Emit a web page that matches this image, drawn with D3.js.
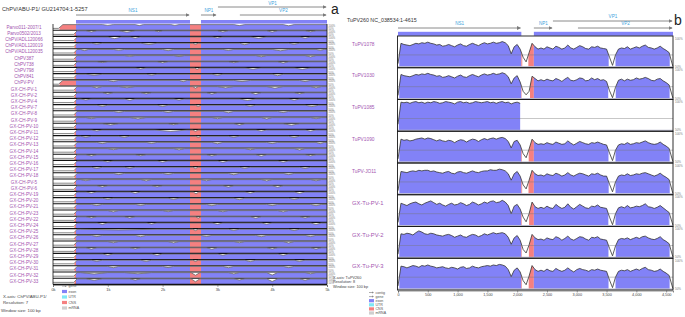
<!DOCTYPE html>
<html>
<head>
<meta charset="utf-8">
<script src="https://cdn.jsdelivr.net/npm/d3@7"></script>
<style>
  body { margin: 0; background: #fff; }
  svg { display: block; font-family: "Liberation Sans", Arial, sans-serif; }
</style>
</head>
<body>
<div id="chart"></div>
<script>
// ---------- panel a data ----------
const namesA = ["Parvo011-2007/1", "Parvo0502/2013", "ChPV/ADL120066", "ChPV/ADL120019", "ChPV/ADL120035",
  "ChPV387", "ChPV738", "ChPV798", "ChPV841", "ChPV-PV", "GX-CH-PV-1", "GX-CH-PV-2", "GX-CH-PV-4",
  "GX-CH-PV-7", "GX-CH-PV-8", "GX-CH-PV-9", "GX-CH-PV-10", "GX-CH-PV-11", "GX-CH-PV-12", "GX-CH-PV-13",
  "GX-CH-PV-14", "GX-CH-PV-15", "GX-CH-PV-16", "GX-CH-PV-17", "GX-CH-PV-18", "GX-CH-PV-5", "GX-CH-PV-6",
  "GX-CH-PV-19", "GX-CH-PV-20", "GX-CH-PV-21", "GX-CH-PV-23", "GX-CH-PV-22", "GX-CH-PV-24", "GX-CH-PV-25",
  "GX-CH-PV-26", "GX-CH-PV-27", "GX-CH-PV-28", "GX-CH-PV-29", "GX-CH-PV-30", "GX-CH-PV-31", "GX-CH-PV-32",
  "GX-CH-PV-33"];

// start of each row (bp, % identity): most sequences are not conserved before NS1
const leadA = [[0, 64], [380, 64], [440, 97]];
const leadPinkA = [[0, 62], [100, 62], [180, 97], [440, 97]];
const pinkLeadRows = ["Parvo011-2007/1", "ChPV-PV"];
const plateauA = 97;
// dips per row: [start bp, end bp, lowest %]
const dipsA = [
  [[900, 1100, 90], [1500, 1650, 88], [2150, 2300, 90], [3300, 3500, 88], [4200, 4400, 86]],
  [[600, 800, 86], [1200, 1500, 84], [1850, 2000, 88], [3000, 3200, 86], [3900, 4100, 85], [4600, 4800, 88]],
  [[1000, 1250, 82], [1400, 1600, 86], [2900, 3100, 88], [3600, 3900, 85], [4500, 4700, 86]],
  [[700, 900, 88], [1600, 1900, 85], [2550, 2650, 86], [3400, 3600, 83], [4300, 4500, 87]],
  [[500, 650, 86], [1100, 1300, 88], [2000, 2200, 85], [3100, 3300, 87], [4000, 4300, 84], [4800, 4950, 88]],
  [[1300, 1500, 90], [2200, 2400, 88], [3700, 3900, 86], [4600, 4800, 85]],
  [[800, 1000, 90], [1900, 2100, 87], [3200, 3400, 88], [4100, 4300, 85]],
  [[1500, 1700, 88], [2580, 2680, 85], [3500, 3800, 86], [4400, 4700, 85]],
  [[600, 900, 87], [1700, 1900, 88], [2900, 3100, 86], [4000, 4200, 83]],
  [[1000, 1200, 86], [2300, 2450, 85], [3300, 3600, 86], [4500, 4700, 86]],
  [[700, 900, 84], [1200, 1500, 86], [2550, 2650, 82], [3000, 3300, 85], [3900, 4200, 82], [4700, 4900, 85]],
  [[900, 1100, 86], [1600, 1800, 87], [2800, 3000, 85], [3600, 3800, 83], [4400, 4600, 87]],
  [[500, 700, 88], [1300, 1500, 85], [2200, 2400, 87], [3400, 3700, 84], [4300, 4500, 86]],
  [[800, 1000, 86], [1900, 2100, 85], [2600, 2700, 84], [3500, 3700, 86], [4600, 4850, 84]],
  [[1100, 1300, 87], [2000, 2200, 86], [3100, 3300, 84], [4100, 4300, 86]],
  [[600, 800, 88], [1400, 1700, 85], [2900, 3100, 87], [3800, 4000, 84], [4700, 4900, 87]],
  [[900, 1200, 86], [2100, 2300, 88], [3300, 3500, 85], [4200, 4500, 84]],
  [[700, 900, 88], [1850, 2450, 84], [2550, 2650, 85], [3700, 3900, 86], [4600, 4800, 86]],
  [[500, 700, 87], [1200, 1400, 86], [2600, 2700, 85], [3200, 3400, 87], [4300, 4500, 85]],
  [[800, 1000, 86], [1700, 1900, 87], [2900, 3100, 84], [3900, 4100, 86], [4800, 4950, 85]],
  [[1000, 1200, 87], [2200, 2400, 85], [3500, 3700, 86], [4400, 4600, 84]],
  [[600, 800, 86], [1500, 1700, 88], [2800, 3000, 86], [3700, 3900, 84], [4600, 4800, 87]],
  [[900, 1100, 88], [1900, 2100, 86], [3000, 3200, 85], [4100, 4300, 86]],
  [[700, 900, 85], [1300, 1500, 87], [2550, 2650, 84], [3400, 3600, 86], [4500, 4700, 85]],
  [[1100, 1300, 86], [2000, 2200, 87], [3200, 3400, 84], [4200, 4400, 86]],
  [[500, 700, 87], [1600, 1800, 85], [2700, 2900, 86], [3800, 4000, 85], [4700, 4900, 86]],
  [[800, 1000, 86], [1800, 2000, 87], [3100, 3300, 85], [4000, 4200, 84]],
  [[600, 800, 86], [1400, 1600, 85], [2560, 2660, 80], [3500, 3700, 86], [4400, 4600, 84]],
  [[900, 1100, 87], [2100, 2300, 86], [3300, 3500, 84], [4300, 4500, 86]],
  [[700, 900, 86], [1500, 1700, 87], [2800, 3000, 85], [3900, 4100, 86], [4700, 4900, 85]],
  [[1000, 1200, 85], [2000, 2200, 87], [3000, 3200, 86], [4100, 4300, 85]],
  [[600, 800, 87], [1300, 1500, 86], [2600, 2700, 85], [3600, 3800, 84], [4500, 4700, 86]],
  [[800, 1000, 85], [1700, 1900, 87], [2900, 3100, 85], [3800, 4000, 86], [4700, 4900, 84]],
  [[500, 1900, 90], [2550, 2650, 84], [3200, 3400, 86], [4300, 4500, 85]],
  [[700, 900, 86], [1500, 1700, 85], [2700, 2900, 87], [3700, 3900, 85], [4600, 4800, 86]],
  [[1000, 1200, 86], [2100, 2300, 85], [3300, 3500, 87], [4200, 4400, 84]],
  [[600, 800, 85], [1400, 1600, 87], [2800, 3000, 84], [3900, 4100, 86], [4700, 4900, 85]],
  [[900, 1100, 86], [1800, 2000, 85], [3000, 3200, 86], [4100, 4300, 85]],
  [[700, 900, 87], [1600, 1800, 86], [2550, 2650, 85], [3500, 3700, 84], [4400, 4600, 86]],
  [[1000, 1200, 85], [2000, 2200, 86], [3100, 3300, 85], [4200, 4400, 86]],
  [[500, 1000, 84], [1300, 1800, 86], [2520, 2680, 72], [3200, 3400, 85], [3900, 4100, 74], [4600, 4800, 86]],
  [[600, 900, 84], [1400, 1600, 85], [2520, 2680, 70], [3300, 3500, 86], [3900, 4100, 72], [4500, 4700, 84]]
];
const regionsA = [[0, 420, "CNS"], [420, 2500, "exon"], [2500, 2700, "CNS"], [2700, 5000, "exon"]];
const exonBarA = [[420, 2500], [2700, 5000]];
const genesA = [["NS1", 420, 2500, 1], ["NP1", 2700, 2990, 1], ["VP1", 3010, 5000, 0], ["VP2", 3410, 5000, 1]];
const ticksA = [0, 1000, 2000, 3000, 4000, 5000];
const tickLabelsA = ["0k", "1k", "2k", "3k", "4k", "5k"];

// ---------- panel b data (% identity, 50 bp steps from 0 to 4600) ----------
const namesB = ["TuPV1078", "TuPV1030", "TuPV1085", "TuPV1090", "TuPV-JO11", "GX-Tu-PV-1", "GX-Tu-PV-2", "GX-Tu-PV-3"];
const stepB = 50;
const tupv1078 = [
  55, 90, 88, 87, 86, 88, 90, 89, 91, 90,
  92, 90, 89, 87, 88, 85, 86, 88, 86, 84,
  87, 89, 86, 85, 88, 90, 88, 86, 89, 91,
  89, 90, 92, 90, 91, 93, 91, 86, 72, 84,
  88, 80, 66, 58, 74, 90, 84, 80, 82, 80,
  84, 82, 80, 85, 83, 80, 82, 87, 82, 80,
  83, 86, 84, 81, 80, 84, 83, 85, 82, 81,
  80, 66, 52, 70, 80, 82, 81, 84, 80, 82,
  84, 82, 85, 87, 83, 82, 80, 82, 85, 81,
  78, 74, 55];
const tupv1030 = [
  55, 91, 89, 88, 87, 89, 91, 90, 92, 91,
  93, 91, 90, 88, 89, 86, 87, 89, 87, 85,
  88, 90, 87, 86, 89, 91, 89, 87, 90, 92,
  90, 91, 93, 91, 92, 94, 92, 87, 75, 85,
  89, 78, 62, 56, 62, 88, 84, 80, 82, 80,
  83, 81, 80, 84, 82, 79, 83, 86, 81, 80,
  82, 85, 84, 80, 81, 85, 82, 84, 81, 82,
  79, 63, 51, 69, 81, 83, 80, 83, 81, 82,
  85, 83, 84, 86, 84, 81, 80, 83, 84, 80,
  77, 73, 55];
const tupv1085 = [
  60, 98, 97, 98, 96, 98, 99, 97, 98, 96,
  98, 97, 99, 98, 96, 97, 99, 98, 97, 95,
  98, 99, 97, 98, 96, 97, 99, 98, 97, 98,
  99, 97, 98, 96, 98, 99, 97, 98, 95, 97,
  98, 96];
const tupv1090 = [
  55, 89, 87, 88, 86, 87, 89, 90, 91, 89,
  91, 90, 88, 86, 88, 86, 85, 87, 86, 83,
  86, 88, 87, 84, 87, 89, 88, 85, 88, 90,
  88, 90, 91, 89, 91, 92, 90, 85, 74, 85,
  87, 79, 64, 57, 72, 89, 83, 80, 81, 80,
  83, 81, 80, 84, 82, 80, 81, 86, 82, 79,
  82, 85, 83, 81, 80, 83, 82, 84, 82, 80,
  79, 65, 52, 70, 79, 81, 80, 83, 80, 81,
  83, 82, 84, 86, 83, 81, 80, 81, 84, 80,
  77, 73, 55];
const tupvJO11 = [
  55, 88, 87, 86, 88, 89, 88, 90, 89, 90,
  90, 88, 89, 87, 86, 85, 87, 88, 85, 84,
  87, 88, 86, 85, 87, 89, 87, 86, 88, 89,
  89, 91, 90, 90, 92, 91, 89, 84, 73, 84,
  88, 80, 65, 58, 73, 90, 84, 81, 82, 80,
  84, 82, 81, 85, 83, 80, 82, 86, 82, 80,
  83, 85, 84, 82, 80, 84, 83, 85, 82, 80,
  80, 66, 53, 70, 80, 82, 81, 84, 81, 82,
  84, 83, 85, 86, 84, 82, 80, 82, 85, 81,
  78, 74, 55];
const gxTu1 = [
  55, 88, 86, 84, 87, 89, 90, 87, 85, 88,
  90, 92, 89, 86, 88, 85, 83, 86, 88, 85,
  86, 89, 87, 84, 86, 90, 88, 85, 87, 90,
  88, 91, 92, 89, 90, 93, 90, 84, 70, 83,
  86, 78, 64, 56, 70, 90, 82, 79, 81, 79,
  83, 80, 79, 86, 82, 79, 81, 87, 81, 78,
  82, 86, 83, 80, 79, 83, 82, 85, 81, 80,
  79, 64, 51, 70, 80, 82, 80, 84, 80, 81,
  83, 82, 84, 87, 82, 81, 79, 81, 84, 80,
  76, 72, 55];
const gxTu2 = [
  55, 90, 89, 91, 90, 88, 92, 95, 93, 90,
  89, 91, 90, 88, 87, 86, 88, 89, 87, 84,
  86, 88, 85, 84, 87, 89, 88, 85, 87, 90,
  88, 90, 92, 90, 91, 92, 90, 84, 72, 83,
  87, 79, 63, 57, 71, 89, 83, 80, 81, 79,
  83, 81, 80, 85, 83, 79, 82, 86, 81, 79,
  82, 85, 84, 81, 79, 84, 83, 85, 81, 80,
  79, 65, 52, 69, 80, 82, 81, 83, 80, 82,
  84, 82, 85, 86, 83, 81, 80, 82, 85, 80,
  77, 73, 55];
const gxTu3 = [
  55, 89, 88, 86, 88, 90, 89, 87, 90, 89,
  91, 89, 88, 86, 87, 88, 86, 85, 87, 86,
  84, 87, 88, 85, 86, 89, 87, 86, 88, 89,
  90, 89, 91, 90, 92, 91, 89, 83, 71, 82,
  86, 79, 64, 57, 72, 90, 83, 80, 82, 80,
  84, 81, 80, 85, 82, 80, 82, 86, 82, 79,
  83, 85, 83, 82, 80, 83, 82, 84, 82, 81,
  80, 65, 52, 70, 80, 82, 81, 83, 80, 82,
  84, 82, 85, 87, 83, 82, 80, 81, 84, 80,
  77, 73, 55];
const valuesB = [tupv1078, tupv1030, tupv1085, tupv1090, tupvJO11, gxTu1, gxTu2, gxTu3];
const regionsB = [[0, 2070, "exon"], [2070, 2280, "CNS"], [2280, 4615, "exon"]];
const exonBarB = [[0, 2070], [2280, 4615]];
const genesB = [["NS1", 0, 2070, 1], ["NP1", 2280, 2600, 1], ["VP1", 2600, 4615, 0], ["VP2", 3020, 4615, 1]];
const ticksB = [0, 500, 1000, 1500, 2000, 2500, 3000, 3500, 4000, 4500];

const legendLabels = ["contig", "gene", "exon", "UTR", "CNS", "mRNA"];

// ---------- drawing ----------
const colors = { exon: "#8282f7", CNS: "#f58080", UTR: "#7fe8f5", mRNA: "#cfcfcf" };
const purple = "#a455b0";
const geneBlue = "#3fa3dc";
const threshold = 70;

const svg = d3.select("#chart").append("svg").attr("width", 685).attr("height", 317);
const defs = svg.append("defs");
defs.append("marker").attr("id", "arr").attr("viewBox", "0 0 6 6")
  .attr("refX", 5).attr("refY", 3).attr("markerWidth", 4).attr("markerHeight", 4)
  .attr("orient", "auto")
  .append("path").attr("d", "M0,0L6,3L0,6Z").attr("fill", "#7a7a7a");

// add points where the curve crosses the threshold so fills stop cleanly
function withCrossings(pts, thr) {
  const out = [];
  pts.forEach((p, i) => {
    const q = pts[i - 1];
    if (q && q.v != null && p.v != null && (q.v - thr) * (p.v - thr) < 0) {
      const t = (thr - q.v) / (p.v - q.v);
      out.push({ bp: q.bp + t * (p.bp - q.bp), v: thr });
    }
    out.push(p);
  });
  return out;
}

function makeClips(id, regions, x) {
  regions.forEach((r, k) => {
    defs.append("clipPath").attr("id", `${id}${k}`)
      .append("rect").attr("x", x(r[0])).attr("width", x(r[1]) - x(r[0]))
      .attr("y", 0).attr("height", 317);
  });
}

function drawRow(g, pts, x, y, regions, clipId, strokeColor, strokeWidth) {
  const full = withCrossings(pts, threshold);
  const area = d3.area()
    .defined(d => d.v != null && d.v >= threshold)
    .x(d => x(d.bp)).y0(y(50)).y1(d => y(d.v));
  regions.forEach((r, k) => {
    g.append("path").attr("d", area(full))
      .attr("fill", colors[r[2]]).attr("clip-path", `url(#${clipId}${k})`);
  });
  const line = d3.line().defined(d => d.v != null).x(d => x(d.bp)).y(d => y(d.v));
  g.append("path").attr("d", line(pts)).attr("fill", "none")
    .attr("stroke", strokeColor).attr("stroke-width", strokeWidth);
}

function drawGenes(g, genes, x, rowY, labelY) {
  genes.forEach(([name, s, e, r]) => {
    g.append("line").attr("x1", x(s)).attr("x2", x(e) - 1)
      .attr("y1", rowY[r]).attr("y2", rowY[r])
      .attr("stroke", "#8a8a8a").attr("stroke-width", 1).attr("marker-end", "url(#arr)");
    g.append("text").attr("x", (x(s) + x(e)) / 2).attr("y", labelY[r])
      .attr("text-anchor", "middle").attr("font-size", 4.6).attr("fill", geneBlue).text(name);
  });
}

function drawLegend(g, x0, y0, dy, items) {
  items.forEach((name, i) => {
    const y = y0 + i * dy;
    if (name === "contig" || name === "gene") {
      g.append("line").attr("x1", x0).attr("x2", x0 + 4).attr("y1", y).attr("y2", y)
        .attr("stroke", "#888").attr("stroke-width", 0.7);
      g.append("path").attr("d", `M${x0 + 3},${y - 1}L${x0 + 5},${y}L${x0 + 3},${y + 1}Z`).attr("fill", "#888");
    } else {
      g.append("rect").attr("x", x0).attr("y", y - 1.6).attr("width", 5).attr("height", 3.2)
        .attr("fill", colors[name]);
    }
    g.append("text").attr("x", x0 + 6.5).attr("y", y + 1.3).attr("font-size", 3.6)
      .attr("fill", "#555").text(name);
  });
}

// ===== panel a =====
const ga = svg.append("g");
const xA = d3.scaleLinear().domain([0, 5000]).range([53, 327]);
const rowTopA = 24, rowHA = 6.2;
makeClips("clipA", regionsA, xA);

ga.append("text").attr("x", 2).attr("y", 11).attr("font-size", 5.6).attr("fill", "#333")
  .text("ChPV/ABU-P1/ GU214704:1-5257");
ga.append("text").attr("x", 331).attr("y", 14).attr("font-size", 14).attr("fill", "#222").text("a");

exonBarA.forEach(([s, e]) => {
  ga.append("rect").attr("x", xA(s)).attr("width", xA(e) - xA(s))
    .attr("y", 20).attr("height", 3.6).attr("fill", colors.exon);
});
drawGenes(ga, genesA, xA, [7, 15], [5.2, 12.2]);

namesA.forEach((name, i) => {
  const top = rowTopA + i * rowHA, bottom = top + rowHA;
  const y = d3.scaleLinear().domain([50, 100]).range([bottom - 0.5, top + 0.3]);
  const lead = pinkLeadRows.includes(name) ? leadPinkA : leadA;
  const pts = lead.map(([bp, v]) => ({ bp, v }));
  (dipsA[i] || []).forEach(([s, e, m]) => {
    pts.push({ bp: s, v: plateauA }, { bp: (s + e) / 2, v: m }, { bp: e, v: plateauA });
  });
  pts.push({ bp: 5000, v: plateauA });
  drawRow(ga, pts, xA, y, regionsA, "clipA", "#6a6a6a", 0.8);
  ga.append("line").attr("x1", xA(0)).attr("x2", xA(5000)).attr("y1", bottom).attr("y2", bottom)
    .attr("stroke", "#111").attr("stroke-width", 1.1);
  ga.append("text").attr("x", 24).attr("y", top + 4.6).attr("text-anchor", "middle")
    .attr("font-size", 4.6).attr("fill", purple).text(name);
  ga.append("text").attr("x", 328.5).attr("y", top + 2.6).attr("font-size", 2.6).attr("fill", "#777").text("100%");
  ga.append("text").attr("x", 328.5).attr("y", bottom).attr("font-size", 2.6).attr("fill", "#777").text("50%");
});
const bottomA = rowTopA + namesA.length * rowHA;
ga.append("line").attr("x1", xA(0)).attr("x2", xA(0)).attr("y1", rowTopA).attr("y2", bottomA)
  .attr("stroke", "#111").attr("stroke-width", 0.8);
ga.append("line").attr("x1", xA(5000)).attr("x2", xA(5000)).attr("y1", rowTopA).attr("y2", bottomA)
  .attr("stroke", "#111").attr("stroke-width", 0.8);

const axA = ga.append("g").attr("transform", `translate(0,${bottomA + 0.5})`)
  .call(d3.axisBottom(xA).tickValues(ticksA).tickFormat((d, i) => tickLabelsA[i]).tickSize(2).tickPadding(1));
axA.select(".domain").attr("stroke", "#444").attr("stroke-width", 0.6);
axA.selectAll(".tick line").attr("stroke", "#444").attr("stroke-width", 0.5);
axA.selectAll("text").attr("font-size", 4).attr("fill", "#444").attr("font-family", null);

ga.append("text").attr("x", 3).attr("y", 298).attr("font-size", 4.3).attr("fill", "#444").text("X-axis: ChPV/ABU-P1/");
ga.append("text").attr("x", 3).attr("y", 304).attr("font-size", 4.3).attr("fill", "#444").text("Resolution: 7");
ga.append("text").attr("x", 1).attr("y", 311.5).attr("font-size", 4.3).attr("fill", "#444").text("Window size: 100 bp");
drawLegend(ga, 62, 286, 5.5, legendLabels.slice(1));

// ===== panel b =====
const gb = svg.append("g");
const xB = d3.scaleLinear().domain([0, 4615]).range([398, 673]);
const rowTopB = 36, rowHB = 31.75;
makeClips("clipB", regionsB, xB);

gb.append("text").attr("x", 347).attr("y", 22).attr("font-size", 5.3).attr("fill", "#333")
  .text("TuPV260 NC_038534:1-4615");
gb.append("text").attr("x", 674).attr("y", 25).attr("font-size", 14).attr("fill", "#222").text("b");

exonBarB.forEach(([s, e]) => {
  gb.append("rect").attr("x", xB(s)).attr("width", xB(e) - xB(s))
    .attr("y", 31.8).attr("height", 4).attr("fill", colors.exon);
});
drawGenes(gb, genesB, xB, [21, 28], [18, 24.8]);

namesB.forEach((name, i) => {
  const top = rowTopB + i * rowHB, bottom = top + rowHB;
  const y = d3.scaleLinear().domain([50, 100]).range([bottom - 1.2, top + 1.5]);
  const pts = valuesB[i].map((v, k) => ({ bp: Math.min(k * stepB, 4615), v }));
  if (valuesB[i].length === 93) pts.push({ bp: 4615, v: 50 });
  drawRow(gb, pts, xB, y, regionsB, "clipB", "#333", 0.8);
  gb.append("line").attr("x1", xB(0)).attr("x2", xB(4615)).attr("y1", y(threshold)).attr("y2", y(threshold))
    .attr("stroke", "#777").attr("stroke-width", 0.8).attr("opacity", 0.55);
  gb.append("line").attr("x1", xB(0)).attr("x2", xB(4615)).attr("y1", bottom - 0.9).attr("y2", bottom - 0.9)
    .attr("stroke", "#b9b9cc").attr("stroke-width", 1.4);
  gb.append("rect").attr("x", xB(0) - 0.5).attr("y", top).attr("width", xB(4615) - xB(0) + 0.5)
    .attr("height", rowHB).attr("fill", "none").attr("stroke", "#1a1a1a").attr("stroke-width", 0.9);
  const isGX = name.startsWith("GX");
  gb.append("text").attr("x", 352).attr("y", top + (isGX ? 10 : 9.5))
    .attr("font-size", isGX ? 5.8 : 4.8).attr("fill", purple).text(name);
  gb.append("text").attr("x", 675).attr("y", top + 3.5).attr("font-size", 3).attr("fill", "#777").text("100%");
  gb.append("text").attr("x", 675).attr("y", bottom).attr("font-size", 3).attr("fill", "#777").text("50%");
});
const bottomB = rowTopB + namesB.length * rowHB;

const axB = gb.append("g").attr("transform", `translate(0,${bottomB + 0.5})`)
  .call(d3.axisBottom(xB).tickValues(ticksB).tickSize(2).tickPadding(1));
axB.select(".domain").attr("stroke", "#444").attr("stroke-width", 0.6);
axB.selectAll(".tick line").attr("stroke", "#444").attr("stroke-width", 0.5);
axB.selectAll("text").attr("font-size", 3.8).attr("fill", "#444").attr("font-family", null);

gb.append("text").attr("x", 333).attr("y", 279).attr("font-size", 3.8).attr("fill", "#444").text("X-axis: TuPV260");
gb.append("text").attr("x", 333).attr("y", 283.3).attr("font-size", 3.8).attr("fill", "#444").text("Resolution: 8");
gb.append("text").attr("x", 333).attr("y", 287.6).attr("font-size", 3.8).attr("fill", "#444").text("Window size: 100 bp");
drawLegend(gb, 369, 292.5, 4.1, legendLabels);
</script>
</body>
</html>
